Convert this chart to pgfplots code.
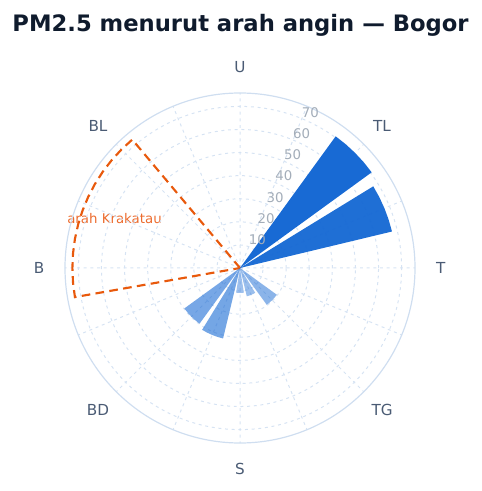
\documentclass[border=0pt]{standalone}
\usepackage{fontspec}
\setmainfont{DejaVu Sans}
\usepackage{pgfplots}
\pgfplotsset{compat=1.18}
\usepgfplotslibrary{polar}

\definecolor{titlecol}{HTML}{0F1B2D}
\definecolor{dircol}{HTML}{4A5B74}
\definecolor{rcol}{HTML}{A3ADB9}
\definecolor{gridcol}{HTML}{D6E3F3}
\definecolor{rimcol}{HTML}{CFDEF0}
\definecolor{barblue}{RGB}{24,106,212}
\definecolor{krak}{HTML}{E8590C}
\definecolor{kraktext}{HTML}{EC6B2D}

\begin{document}
\begin{tikzpicture}
\path[use as bounding box] (0pt,0pt) rectangle (360.75pt,368.25pt);
\node[anchor=base, text=titlecol, font=\bfseries\fontsize{17}{17}\selectfont]
  at (180.4pt,344.5pt) {PM2.5 menurut arah angin — Bogor};
\node[anchor=base west, inner sep=0pt, text=kraktext, font=\fontsize{10}{10}\selectfont]
  at (50.25pt,200.25pt) {arah Krakatau};

\begin{polaraxis}[
    at={(180pt,167.25pt)}, anchor=origin,
    width=262.5pt, height=262.5pt, scale only axis,
    ymin=0, ymax=75.8,
    clip=false,
    xtick={0,22.5,45,67.5,90,112.5,135,157.5,180,202.5,225,247.5,270,292.5,315,337.5},
    ytick={10,20,30,40,50,60,70},
    xticklabels={}, yticklabels={},
    major tick length=0pt,
    grid=major,
    major grid style={draw=gridcol, line width=0.75pt, dash pattern=on 2.2pt off 2.8pt},
    axis line style={draw=rimcol, line width=0.9pt},
    y axis line style={draw=none},
  ]
  % Krakatau sector
  \addplot[draw=krak, line width=1.6pt, dash pattern=on 6.5pt off 4pt, fill=none, mark=none]
    coordinates {(0,0) (130,72.6) (135,72.6) (140,72.6) (145,72.6) (150,72.6) (155,72.6)
      (160,72.6) (165,72.6) (170,72.6) (175,72.6) (180,72.6) (185,72.6) (190,72.6)} -- cycle;

  % bars (16 directions, 18 deg wide)
  % TL (45)
  \addplot[fill=barblue, draw=none, mark=none]
    coordinates {(0,0) (36,70.5) (40.5,70.5) (45,70.5) (49.5,70.5) (54,70.5)} -- cycle;
  % TTL (22.5)
  \addplot[fill=barblue, fill opacity=0.97, draw=none, mark=none]
    coordinates {(0,0) (13.5,67.7) (18,67.7) (22.5,67.7) (27,67.7) (31.5,67.7)} -- cycle;
  % TG (315)
  \addplot[fill=barblue, fill opacity=0.5, draw=none, mark=none]
    coordinates {(0,0) (306,19.7) (310.5,19.7) (315,19.7) (319.5,19.7) (324,19.7)} -- cycle;
  % STG (292.5)
  \addplot[fill=barblue, fill opacity=0.44, draw=none, mark=none]
    coordinates {(0,0) (283.5,12.6) (288,12.6) (292.5,12.6) (297,12.6) (301.5,12.6)} -- cycle;
  % S (270)
  \addplot[fill=barblue, fill opacity=0.42, draw=none, mark=none]
    coordinates {(0,0) (261,10.8) (265.5,10.8) (270,10.8) (274.5,10.8) (279,10.8)} -- cycle;
  % SBD (247.5)
  \addplot[fill=barblue, fill opacity=0.6, draw=none, mark=none]
    coordinates {(0,0) (238.5,31.4) (243,31.4) (247.5,31.4) (252,31.4) (256.5,31.4)} -- cycle;
  % BD (225)
  \addplot[fill=barblue, fill opacity=0.59, draw=none, mark=none]
    coordinates {(0,0) (216,29.8) (220.5,29.8) (225,29.8) (229.5,29.8) (234,29.8)} -- cycle;

  % radial labels
  \node[text=rcol, font=\fontsize{10}{10}\selectfont, xshift=6.4pt, yshift=4.9pt] at (axis cs:67.5,10) {10};
  \node[text=rcol, font=\fontsize{10}{10}\selectfont, xshift=6.4pt, yshift=4.9pt] at (axis cs:67.5,20) {20};
  \node[text=rcol, font=\fontsize{10}{10}\selectfont, xshift=6.4pt, yshift=4.9pt] at (axis cs:67.5,30) {30};
  \node[text=rcol, font=\fontsize{10}{10}\selectfont, xshift=6.4pt, yshift=4.9pt] at (axis cs:67.5,40) {40};
  \node[text=rcol, font=\fontsize{10}{10}\selectfont, xshift=6.4pt, yshift=4.9pt] at (axis cs:67.5,50) {50};
  \node[text=rcol, font=\fontsize{10}{10}\selectfont, xshift=6.4pt, yshift=4.9pt] at (axis cs:67.5,60) {60};
  \node[text=rcol, font=\fontsize{10}{10}\selectfont, xshift=6.4pt, yshift=4.9pt] at (axis cs:67.5,70) {70};

  % compass labels
  \node[text=dircol, font=\fontsize{11.4}{11.4}\selectfont] at (axis cs:90,87) {U};
  \node[text=dircol, font=\fontsize{11.4}{11.4}\selectfont] at (axis cs:45,87) {TL};
  \node[text=dircol, font=\fontsize{11.4}{11.4}\selectfont] at (axis cs:0,87) {T};
  \node[text=dircol, font=\fontsize{11.4}{11.4}\selectfont] at (axis cs:315,87) {TG};
  \node[text=dircol, font=\fontsize{11.4}{11.4}\selectfont] at (axis cs:270,87) {S};
  \node[text=dircol, font=\fontsize{11.4}{11.4}\selectfont] at (axis cs:225,87) {BD};
  \node[text=dircol, font=\fontsize{11.4}{11.4}\selectfont] at (axis cs:180,87) {B};
  \node[text=dircol, font=\fontsize{11.4}{11.4}\selectfont] at (axis cs:135,87) {BL};
\end{polaraxis}
\end{tikzpicture}
\end{document}
